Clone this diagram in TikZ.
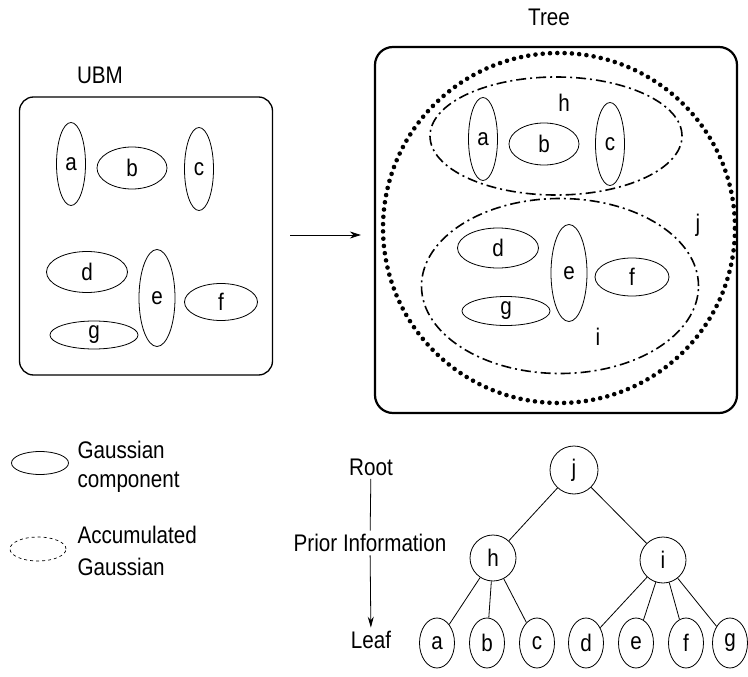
\documentclass[tikz,border=0pt]{standalone}
\usepackage{fontspec}
\setmainfont{Liberation Sans}[FakeStretch=0.86]
\usetikzlibrary{shapes.geometric,arrows.meta}

\begin{document}
\begin{tikzpicture}[x=1pt,y=-1pt,
  every node/.style={font=\fontsize{24}{29}\selectfont},
  gauss/.style 2 args={draw,ellipse,inner sep=0pt,line width=0.8pt,
    minimum width=#1pt,minimum height=#2pt},
  accum/.style 2 args={draw,ellipse,inner sep=0pt,line width=1.6pt,
    dash pattern=on 10pt off 4pt on 2pt off 4pt,
    minimum width=#1pt,minimum height=#2pt},
  root/.style={draw,ellipse,inner sep=0pt,line width=4.6pt,line cap=round,
    dash pattern=on 0pt off 7.3pt,minimum width=352pt,minimum height=350pt},
  tnode/.style={draw,circle,inner sep=0pt,line width=0.8pt,minimum size=#1pt},
  leaf/.style={draw,ellipse,inner sep=0pt,line width=0.8pt,
    minimum width=35pt,minimum height=50pt},
  box/.style={draw,rounded corners=#1pt}]
  \useasboundingbox (0,0) rectangle (748,677);

  % titles
  \node (ubmtitle) at (100,75) {UBM};
  \node (treetitle) at (549,17) {Tree};

  % UBM
  \node[box=14,line width=1.3pt,minimum width=253pt,minimum height=278pt]
    (ubmbox) at (146,236) {};
  \node[gauss={29}{83}] (ua) at (71,164) {a};
  \node[gauss={70}{42}] (ub) at (132,168) {b};
  \node[gauss={29}{83}] (uc) at (199,169) {c};
  \node[gauss={81}{41}] (ud) at (87,272) {d};
  \node[gauss={36}{97}] (ue) at (157,298) {e};
  \node[gauss={73}{37}] (uf) at (221,302) {f};
  \node[gauss={88}{28}] (ug) at (94,335) {g};

  % Tree
  \node[box=18,line width=2.2pt,minimum width=362pt,minimum height=366pt]
    (treebox) at (556,230) {};
  \node[root] (cj) at (559,228) {};
  \node (lj) at (698,225) {j};
  \node[accum={252}{118}] (ch) at (556,136) {};
  \node (lh) at (564,103) {h};
  \node[accum={277}{175}] (ci) at (560,286) {};
  \node (li) at (598,337) {i};
  \node[gauss={29}{83}] (ta) at (483,139) {a};
  \node[gauss={70}{42}] (tb) at (544,144) {b};
  \node[gauss={29}{83}] (tc) at (610,144) {c};
  \node[gauss={81}{40}] (td) at (498,248) {d};
  \node[gauss={36}{97}] (te) at (569,273) {e};
  \node[gauss={74}{38}] (tf) at (632,277) {f};
  \node[gauss={88}{29}] (tg) at (506,311) {g};

  \draw[line width=0.8pt,-{Stealth[length=11pt,width=7pt]}]
    ([xshift=17pt,yshift=1pt]ubmbox.east) -- ([xshift=-13pt,yshift=1pt]ubmbox.east -| treebox.west);

  % legend
  \node[gauss={57}{23}] (lg1) at (40,463) {};
  \node[anchor=west,align=left] (lt1) at (74,467) {Gaussian\\component};
  \node[draw,ellipse,line width=0.7pt,dash pattern=on 3pt off 3pt,
    minimum width=56pt,minimum height=24pt] (lg2) at (38,549) {};
  \node[anchor=west,align=left,font=\fontsize{24}{32}\selectfont]
    (lt2) at (74,551) {Accumulated\\Gaussian};

  % hierarchy
  \node (nroot) at (371,467) {Root};
  \node (nprior) at (370,543) {Prior Information};
  \node (nleaf) at (371,640) {Leaf};
  \draw[line width=0.8pt] (nroot) -- (nprior);
  \draw[line width=0.8pt,-{Stealth[length=11pt,width=6pt]}] (nprior) -- (nleaf);

  \node[tnode=48] (j) at (574,470) {j};
  \node[tnode=46] (h) at (493,558) {h};
  \node[tnode=46] (i) at (663,560) {i};
  \node[leaf] (a) at (437,643) {a};
  \node[leaf] (b) at (487,643) {b};
  \node[leaf] (c) at (537,643) {c};
  \node[leaf] (d) at (586,643) {d};
  \node[leaf] (e) at (636,643) {e};
  \node[leaf] (f) at (686,643) {f};
  \node[leaf] (g) at (730,643) {g};
  \path[draw,line width=0.8pt]
    (j) edge (h)
    (j) edge (i)
    (h) edge (a)
    (h) edge (b)
    (h) edge (c)
    (i) edge (d)
    (i) edge (e)
    (i) edge (f)
    (i) edge (g);
\end{tikzpicture}
\end{document}
